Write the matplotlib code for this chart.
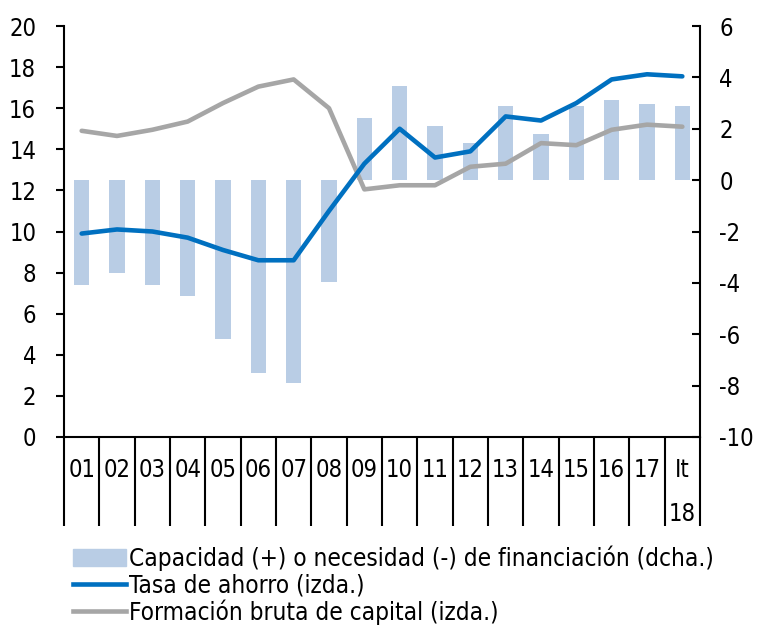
import numpy as np
import matplotlib
matplotlib.use("Agg")
import matplotlib.pyplot as plt
from matplotlib.patches import Patch
from matplotlib.lines import Line2D

plt.rcParams['font.family'] = ['DejaVu Sans']
plt.rcParams['font.stretch'] = 'condensed'
plt.rcParams['axes.unicode_minus'] = False

years = ["01", "02", "03", "04", "05", "06", "07", "08", "09", "10",
         "11", "12", "13", "14", "15", "16", "17", "It\n18"]
# capacidad/necesidad de financiacion (eje dcho.)
financiacion = [-4.1, -3.6, -4.1, -4.5, -6.2, -7.5, -7.9, -3.95, 2.4, 3.65,
                2.1, 1.45, 2.9, 1.8, 2.9, 3.1, 2.95, 2.9]
# tasa de ahorro (eje izdo.)
ahorro = [9.9, 10.1, 10.0, 9.7, 9.1, 8.6, 8.6, 11.0, 13.3, 15.0,
          13.6, 13.9, 15.6, 15.4, 16.25, 17.4, 17.65, 17.55]
# formacion bruta de capital (eje izdo.)
fbc = [14.9, 14.65, 14.95, 15.35, 16.25, 17.05, 17.4, 16.0, 12.05, 12.25,
       12.25, 13.15, 13.3, 14.3, 14.2, 14.95, 15.2, 15.1]

c_bar = "#b9cde5"
c_blue = "#0070c0"
c_gray = "#a6a6a6"
fs = 17

fig = plt.figure(figsize=(7.6, 6.28), dpi=100)
ax = fig.add_axes([64/760, (628-437)/628, 636/760, 411/628])
ax2 = ax.twinx()

x = np.arange(len(years))
ax2.bar(x, financiacion, width=0.43, color=c_bar, zorder=1)
ax.plot(x, ahorro, color=c_blue, lw=3.3, solid_capstyle='round', zorder=3)
ax.plot(x, fbc, color=c_gray, lw=3.3, solid_capstyle='round', zorder=2)

# lines above bars
ax.set_zorder(2)
ax.patch.set_visible(False)

ax.set_xlim(-0.5, len(years) - 0.5)
ax.set_ylim(0, 20)
ax.set_yticks(np.arange(0, 21, 2))
ax2.set_ylim(-10, 6)
ax2.set_yticks(np.arange(-10, 7, 2))

for a in (ax, ax2):
    a.spines['top'].set_visible(False)
    for s in a.spines.values():
        s.set_linewidth(1.5)
ax.spines['right'].set_visible(False)
ax2.spines['left'].set_visible(False)
ax2.spines['bottom'].set_visible(False)

ax.tick_params(axis='y', direction='out', length=6, width=1.5, labelsize=fs, pad=14)
ax2.tick_params(axis='y', direction='in', length=6, width=1.5, labelsize=fs, pad=14)

# category separators below the axis
ax.set_xticks(np.arange(-0.5, len(years), 1.0))
ax.set_xticklabels([])
ax.tick_params(axis='x', direction='out', length=64, width=1.5)

for i, lab in enumerate(years):
    ax.annotate(lab, xy=(i, 0), xycoords=('data', 'axes fraction'),
                xytext=(0, -15), textcoords='offset points',
                ha='center', va='top', fontsize=fs, linespacing=2.05)

handles = [Patch(color=c_bar),
           Line2D([], [], color=c_blue, lw=3.3),
           Line2D([], [], color=c_gray, lw=3.3)]
labels = ["Capacidad (+) o necesidad (-) de financiación (dcha.)",
          "Tasa de ahorro (izda.)",
          "Formación bruta de capital (izda.)"]
fig.legend(handles, labels, loc='upper left', bbox_to_anchor=(73/760, 0.132),
           frameon=False, fontsize=17.5, handlelength=2.2, handletextpad=0.1,
           labelspacing=0.1, borderaxespad=0, borderpad=0)

fig.savefig("out.png", dpi=100)
